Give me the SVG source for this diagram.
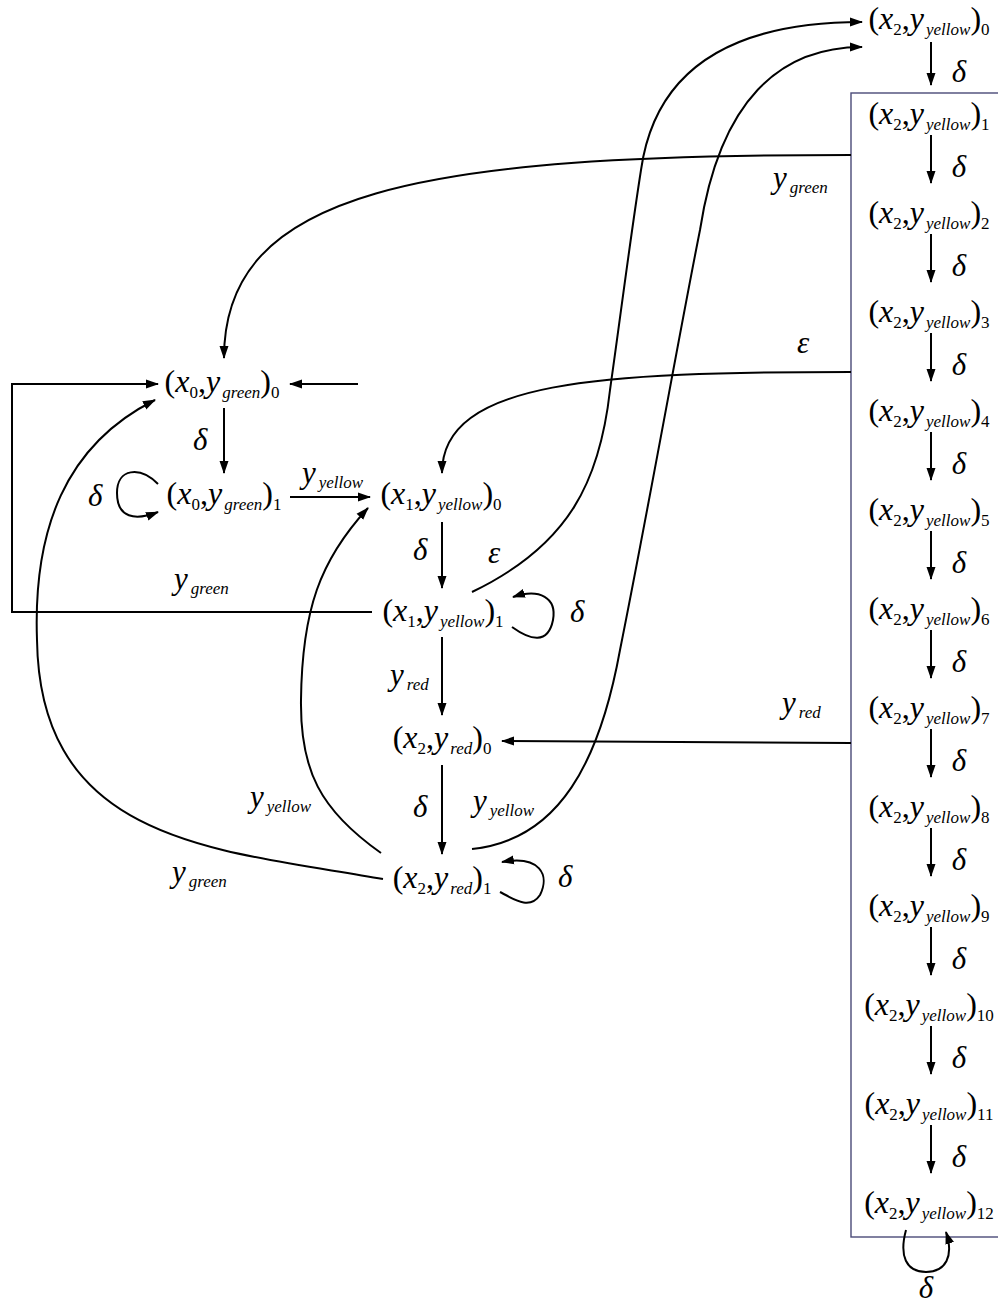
<svg xmlns="http://www.w3.org/2000/svg" width="998" height="1306" viewBox="0 0 998 1306">
<defs>
<marker id="ah" markerUnits="userSpaceOnUse" markerWidth="13" markerHeight="10" viewBox="0 0 13 10" refX="12" refY="5" orient="auto"><path d="M0,0.5 L13,5 L0,9.5 z" fill="#000"/></marker>
<style>
.n{font-family:"Liberation Serif",serif;font-size:32px;text-anchor:middle;fill:#000}
.i{font-style:italic}
.s{font-size:17px}
.si{font-size:17px;font-style:italic}
.l{font-family:"Liberation Serif",serif;font-size:31px;font-style:italic;fill:#000}
.ls{font-size:17px}
.d{font-family:"Liberation Serif",serif;font-size:31px;font-style:italic;fill:#000}
.dc{font-family:"Liberation Serif",serif;font-size:31px;font-style:italic;fill:#000;text-anchor:middle}
.e{stroke:#000;stroke-width:2;fill:none;marker-end:url(#ah)}
.box{stroke:#4a4a78;stroke-width:1.4;fill:none}
</style>
</defs>
<rect width="998" height="1306" fill="#fff"/>
<g id="box"><rect class="box" x="851" y="93" width="160" height="1144"/></g>
<g id="connectors">
<path class="e" d="M851,155 C420,155 224,190 224,358"/>
<path class="e" d="M851,372 C600,372 442,380 442,473"/>
<path class="e" d="M851,743 L502,741"/>
<path class="e" d="M472,592 C570,545 600,480 610,390 C620,320 630,240 641,170 C655,70 730,22 862,22"/>
<path class="e" d="M472,849 C560,840 600,760 620,650 C650,500 680,330 700,230 C720,100 780,47 862,47"/>
<path class="e" d="M358,384 L290,384"/>
<path class="e" d="M372,612 L12,612 L12,384 L158,384"/>
<path class="e" d="M224,408 L224,473"/>
<path class="e" d="M158,484 C140,466 117,468 117,493 C117,518 135,521 158,512"/>
<path class="e" d="M290,497 L370,497"/>
<path class="e" d="M442,522 L442,588"/>
<path class="e" d="M512,627 C530,640 548,645 553,620 C557,598 540,588 513,597"/>
<path class="e" d="M442,637 L442,715"/>
<path class="e" d="M442,765 L442,854"/>
<path class="e" d="M500,892 C515,900 530,910 540,895 C550,875 540,855 502,862"/>
<path class="e" d="M381,853 C320,810 300,770 301,700 C302,610 320,560 368,508"/>
<path class="e" d="M383,879 C220,850 40,845 37,640 C33,530 65,445 155,400"/>
<path class="e" d="M931,42 L931,85"/>
<path class="e" d="M931,135 L931,183"/>
<path class="e" d="M931,234 L931,282"/>
<path class="e" d="M931,333 L931,381"/>
<path class="e" d="M931,432 L931,480"/>
<path class="e" d="M931,531 L931,579"/>
<path class="e" d="M931,630 L931,678"/>
<path class="e" d="M931,729 L931,777"/>
<path class="e" d="M931,828 L931,876"/>
<path class="e" d="M931,927 L931,975"/>
<path class="e" d="M931,1026 L931,1074"/>
<path class="e" d="M931,1125 L931,1173"/>
<path class="e" d="M906,1230 C899,1256 906,1272 926,1272 C946,1272 954,1256 946,1232"/>
</g>
<g id="labels">
<text class="l" x="773" y="188">y<tspan class="ls" dx="3" dy="5">green</tspan></text>
<text class="d" x="797" y="353">ε</text>
<text class="l" x="782" y="713">y<tspan class="ls" dx="3" dy="5">red</tspan></text>
<text class="l" x="174" y="589">y<tspan class="ls" dx="3" dy="5">green</tspan></text>
<text class="l" x="172" y="882">y<tspan class="ls" dx="3" dy="5">green</tspan></text>
<text class="l" x="250" y="807">y<tspan class="ls" dx="3" dy="5">yellow</tspan></text>
<text class="l" x="473" y="811">y<tspan class="ls" dx="3" dy="5">yellow</tspan></text>
<text class="l" x="302" y="483">y<tspan class="ls" dx="3" dy="5">yellow</tspan></text>
<text class="l" x="390" y="685">y<tspan class="ls" dx="3" dy="5">red</tspan></text>
<text class="d" x="488" y="563">ε</text>
<text class="d" x="570" y="622">δ</text>
<text class="d" x="558" y="887">δ</text>
<text class="d" x="193" y="450">δ</text>
<text class="d" x="88" y="506">δ</text>
<text class="d" x="413" y="560">δ</text>
<text class="d" x="413" y="817">δ</text>
<text class="dc" x="959" y="82">δ</text>
<text class="dc" x="959" y="177">δ</text>
<text class="dc" x="959" y="276">δ</text>
<text class="dc" x="959" y="375">δ</text>
<text class="dc" x="959" y="474">δ</text>
<text class="dc" x="959" y="573">δ</text>
<text class="dc" x="959" y="672">δ</text>
<text class="dc" x="959" y="771">δ</text>
<text class="dc" x="959" y="870">δ</text>
<text class="dc" x="959" y="969">δ</text>
<text class="dc" x="959" y="1068">δ</text>
<text class="dc" x="959" y="1167">δ</text>
<text class="dc" x="926" y="1298">δ</text>
</g>
<g id="n_x0g0"><text class="n" x="222" y="392">(<tspan class="i">x</tspan><tspan class="s" dy="6">0</tspan><tspan dy="-6">,</tspan><tspan class="i">y</tspan><tspan class="si" dx="2" dy="6">green</tspan><tspan dy="-6">)</tspan><tspan class="s" dy="6">0</tspan></text></g>
<g id="n_x0g1"><text class="n" x="224" y="504">(<tspan class="i">x</tspan><tspan class="s" dy="6">0</tspan><tspan dy="-6">,</tspan><tspan class="i">y</tspan><tspan class="si" dx="2" dy="6">green</tspan><tspan dy="-6">)</tspan><tspan class="s" dy="6">1</tspan></text></g>
<g id="n_x1y0"><text class="n" x="441" y="504">(<tspan class="i">x</tspan><tspan class="s" dy="6">1</tspan><tspan dy="-6">,</tspan><tspan class="i">y</tspan><tspan class="si" dx="2" dy="6">yellow</tspan><tspan dy="-6">)</tspan><tspan class="s" dy="6">0</tspan></text></g>
<g id="n_x1y1"><text class="n" x="443" y="621">(<tspan class="i">x</tspan><tspan class="s" dy="6">1</tspan><tspan dy="-6">,</tspan><tspan class="i">y</tspan><tspan class="si" dx="2" dy="6">yellow</tspan><tspan dy="-6">)</tspan><tspan class="s" dy="6">1</tspan></text></g>
<g id="n_x2r0"><text class="n" x="442" y="748">(<tspan class="i">x</tspan><tspan class="s" dy="6">2</tspan><tspan dy="-6">,</tspan><tspan class="i">y</tspan><tspan class="si" dx="2" dy="6">red</tspan><tspan dy="-6">)</tspan><tspan class="s" dy="6">0</tspan></text></g>
<g id="n_x2r1"><text class="n" x="442" y="888">(<tspan class="i">x</tspan><tspan class="s" dy="6">2</tspan><tspan dy="-6">,</tspan><tspan class="i">y</tspan><tspan class="si" dx="2" dy="6">red</tspan><tspan dy="-6">)</tspan><tspan class="s" dy="6">1</tspan></text></g>
<g id="n_x2y0"><text class="n" x="929" y="29">(<tspan class="i">x</tspan><tspan class="s" dy="6">2</tspan><tspan dy="-6">,</tspan><tspan class="i">y</tspan><tspan class="si" dx="2" dy="6">yellow</tspan><tspan dy="-6">)</tspan><tspan class="s" dy="6">0</tspan></text></g>
<g id="n_x2y1"><text class="n" x="929" y="124">(<tspan class="i">x</tspan><tspan class="s" dy="6">2</tspan><tspan dy="-6">,</tspan><tspan class="i">y</tspan><tspan class="si" dx="2" dy="6">yellow</tspan><tspan dy="-6">)</tspan><tspan class="s" dy="6">1</tspan></text></g>
<g id="n_x2y2"><text class="n" x="929" y="223">(<tspan class="i">x</tspan><tspan class="s" dy="6">2</tspan><tspan dy="-6">,</tspan><tspan class="i">y</tspan><tspan class="si" dx="2" dy="6">yellow</tspan><tspan dy="-6">)</tspan><tspan class="s" dy="6">2</tspan></text></g>
<g id="n_x2y3"><text class="n" x="929" y="322">(<tspan class="i">x</tspan><tspan class="s" dy="6">2</tspan><tspan dy="-6">,</tspan><tspan class="i">y</tspan><tspan class="si" dx="2" dy="6">yellow</tspan><tspan dy="-6">)</tspan><tspan class="s" dy="6">3</tspan></text></g>
<g id="n_x2y4"><text class="n" x="929" y="421">(<tspan class="i">x</tspan><tspan class="s" dy="6">2</tspan><tspan dy="-6">,</tspan><tspan class="i">y</tspan><tspan class="si" dx="2" dy="6">yellow</tspan><tspan dy="-6">)</tspan><tspan class="s" dy="6">4</tspan></text></g>
<g id="n_x2y5"><text class="n" x="929" y="520">(<tspan class="i">x</tspan><tspan class="s" dy="6">2</tspan><tspan dy="-6">,</tspan><tspan class="i">y</tspan><tspan class="si" dx="2" dy="6">yellow</tspan><tspan dy="-6">)</tspan><tspan class="s" dy="6">5</tspan></text></g>
<g id="n_x2y6"><text class="n" x="929" y="619">(<tspan class="i">x</tspan><tspan class="s" dy="6">2</tspan><tspan dy="-6">,</tspan><tspan class="i">y</tspan><tspan class="si" dx="2" dy="6">yellow</tspan><tspan dy="-6">)</tspan><tspan class="s" dy="6">6</tspan></text></g>
<g id="n_x2y7"><text class="n" x="929" y="718">(<tspan class="i">x</tspan><tspan class="s" dy="6">2</tspan><tspan dy="-6">,</tspan><tspan class="i">y</tspan><tspan class="si" dx="2" dy="6">yellow</tspan><tspan dy="-6">)</tspan><tspan class="s" dy="6">7</tspan></text></g>
<g id="n_x2y8"><text class="n" x="929" y="817">(<tspan class="i">x</tspan><tspan class="s" dy="6">2</tspan><tspan dy="-6">,</tspan><tspan class="i">y</tspan><tspan class="si" dx="2" dy="6">yellow</tspan><tspan dy="-6">)</tspan><tspan class="s" dy="6">8</tspan></text></g>
<g id="n_x2y9"><text class="n" x="929" y="916">(<tspan class="i">x</tspan><tspan class="s" dy="6">2</tspan><tspan dy="-6">,</tspan><tspan class="i">y</tspan><tspan class="si" dx="2" dy="6">yellow</tspan><tspan dy="-6">)</tspan><tspan class="s" dy="6">9</tspan></text></g>
<g id="n_x2y10"><text class="n" x="929" y="1015">(<tspan class="i">x</tspan><tspan class="s" dy="6">2</tspan><tspan dy="-6">,</tspan><tspan class="i">y</tspan><tspan class="si" dx="2" dy="6">yellow</tspan><tspan dy="-6">)</tspan><tspan class="s" dy="6">10</tspan></text></g>
<g id="n_x2y11"><text class="n" x="929" y="1114">(<tspan class="i">x</tspan><tspan class="s" dy="6">2</tspan><tspan dy="-6">,</tspan><tspan class="i">y</tspan><tspan class="si" dx="2" dy="6">yellow</tspan><tspan dy="-6">)</tspan><tspan class="s" dy="6">11</tspan></text></g>
<g id="n_x2y12"><text class="n" x="929" y="1213">(<tspan class="i">x</tspan><tspan class="s" dy="6">2</tspan><tspan dy="-6">,</tspan><tspan class="i">y</tspan><tspan class="si" dx="2" dy="6">yellow</tspan><tspan dy="-6">)</tspan><tspan class="s" dy="6">12</tspan></text></g>
</svg>
